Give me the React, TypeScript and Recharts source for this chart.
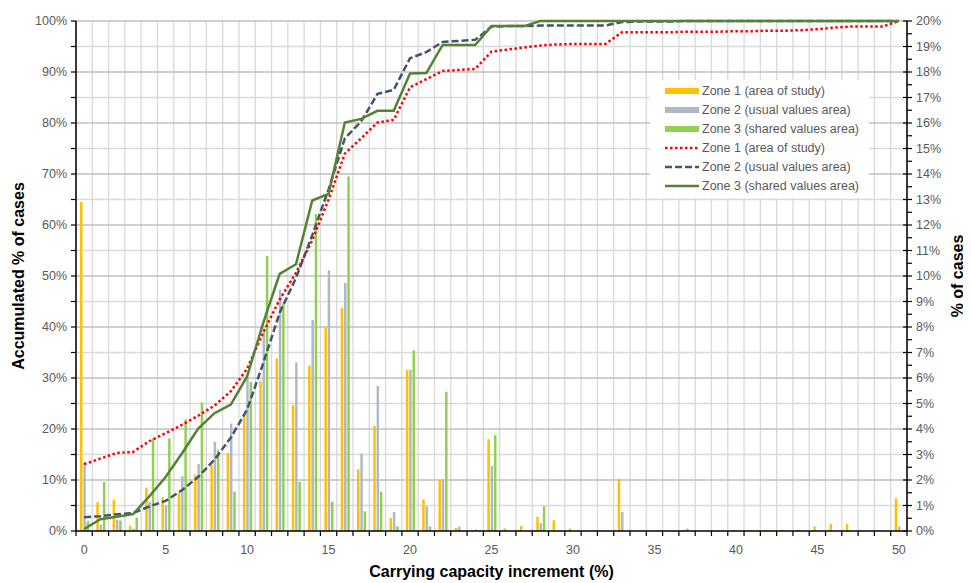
import React from "react";
import {
  Bar,
  CartesianGrid,
  ComposedChart,
  Label,
  Legend,
  Line,
  XAxis,
  YAxis,
} from "recharts";

// carrying capacity increment (%), one category per integer
const increments = [
  0, 1, 2, 3, 4, 5, 6, 7, 8, 9, 10, 11, 12, 13, 14, 15, 16, 17, 18, 19, 20, 21, 22, 23, 24, 25,
  26, 27, 28, 29, 30, 31, 32, 33, 34, 35, 36, 37, 38, 39, 40, 41, 42, 43, 44, 45, 46, 47, 48, 49, 50,
];

// % of cases (right axis)
const zone1Share = [
  12.9, 1.13, 1.23, 0.21, 1.7, 1.33, 1.5, 2.21, 2.58, 3.06, 4.54, 5.87, 6.77, 4.93, 6.48, 7.98,
  8.75, 2.42, 4.12, 0.51, 6.31, 1.24, 2.02, 0.12, 0.03, 3.6, 0.1, 0.2, 0.56, 0.42, 0.1, 0, 0, 2.05,
  0, 0, 0, 0.05, 0, 0, 0.04, 0.04, 0.04, 0.04, 0.05, 0.18, 0.27, 0.27, 0, 0, 1.28,
];
const zone2Share = [
  2.71, 0.25, 0.45, 0.09, 1.14, 1.01, 2.15, 2.62, 3.49, 4.21, 6.04, 7.88, 9.47, 6.61, 8.28, 10.23,
  9.73, 3.04, 5.69, 0.75, 6.33, 0.97, 2.03, 0.18, 0.06, 2.55, 0, 0, 0.31, 0, 0, 0, 0, 0.75, 0, 0,
  0, 0.1, 0, 0, 0, 0, 0, 0, 0, 0, 0, 0, 0, 0, 0.18,
];
const zone3Share = [
  0.38, 1.92, 0.41, 0.53, 3.63, 3.63, 4.37, 5.04, 3.17, 1.55, 5.85, 10.78, 8.92, 1.92, 12.43, 1.15,
  13.9, 0.77, 1.55, 0.18, 7.09, 0.18, 5.46, 0, 0, 3.76, 0, 0, 0.97, 0, 0, 0, 0, 0, 0, 0, 0, 0, 0, 0,
  0, 0, 0, 0, 0, 0, 0, 0, 0, 0, 0,
];

// accumulated % of cases (left axis)
const zone1Accum = [
  13.1, 14.2, 15.3, 15.5, 17.6, 19.2, 20.8, 22.6, 24.6, 27.4, 31.8, 39.0, 45.4, 50.6, 57.0, 65.0,
  74.0, 77.0, 80.1, 80.6, 87.0, 88.6, 90.2, 90.4, 90.6, 94.0, 94.4, 94.8, 95.2, 95.4, 95.5, 95.5,
  95.5, 97.8, 97.8, 97.8, 97.8, 97.9, 97.9, 97.9, 98.0, 98.0, 98.1, 98.1, 98.2, 98.4, 98.7, 98.9,
  98.9, 98.9, 100,
];
const zone2Accum = [
  2.7, 2.9, 3.3, 3.5, 4.8, 5.9, 8.0, 10.6, 14.0, 18.3, 23.8, 33.0, 42.8, 49.6, 58.0, 67.0, 77.0,
  80.3, 85.7, 86.5, 92.7, 93.9, 95.9, 96.1, 96.3, 98.9, 99.0, 99.0, 99.1, 99.1, 99.1, 99.1, 99.1,
  99.8, 99.9, 99.9, 99.9, 100, 100, 100, 100, 100, 100, 100, 100, 100, 100, 100, 100, 100, 100,
];
const zone3Accum = [
  0.4, 2.3, 2.8, 3.3, 6.8, 10.6, 15.2, 20.1, 23.1, 24.8, 30.3, 40.9, 50.4, 52.3, 64.8, 66.1, 80.1,
  80.8, 82.4, 82.4, 89.7, 89.8, 95.3, 95.3, 95.3, 99.0, 99.0, 99.0, 100, 100, 100, 100, 100, 100,
  100, 100, 100, 100, 100, 100, 100, 100, 100, 100, 100, 100, 100, 100, 100, 100, 100,
];

const accumTicks = [0, 5, 10, 15, 20, 25, 30, 35, 40, 45, 50, 55, 60, 65, 70, 75, 80, 85, 90, 95, 100];
const shareTicks = [
  0, 0.5, 1, 1.5, 2, 2.5, 3, 3.5, 4, 4.5, 5, 5.5, 6, 6.5, 7, 7.5, 8, 8.5, 9, 9.5, 10, 10.5, 11,
  11.5, 12, 12.5, 13, 13.5, 14, 14.5, 15, 15.5, 16, 16.5, 17, 17.5, 18, 18.5, 19, 19.5, 20,
];
const majorLevels = [10, 20, 30, 40, 50, 60, 70, 80, 90, 100];
const minorLevels = [5, 15, 25, 35, 45, 55, 65, 75, 85, 95];

const data = increments.map((inc, i) => ({
  inc,
  z1: zone1Share[i],
  z2: zone2Share[i],
  z3: zone3Share[i],
  c1: zone1Accum[i],
  c2: zone2Accum[i],
  c3: zone3Accum[i],
}));

const font = '"Liberation Sans", Arial, sans-serif';
const tickColor = "#595959";

const legendRows = [
  { name: "Zone 1 (area of study)", color: "#FFC000", kind: "bar" },
  { name: "Zone 2 (usual values area)", color: "#ADB9CA", kind: "bar" },
  { name: "Zone 3 (shared values area)", color: "#92D050", kind: "bar" },
  { name: "Zone 1 (area of study)", color: "#FF0000", kind: "line", dash: "2.5 2.5" },
  { name: "Zone 2 (usual values area)", color: "#44546A", kind: "line", dash: "7 3" },
  { name: "Zone 3 (shared values area)", color: "#548235", kind: "line" },
];

function levelsGenerator(levels: number[]) {
  return ({ yAxis, offset }: any) => {
    const s = yAxis && yAxis.scale;
    return levels.map((v) =>
      typeof s === "function" ? s(v) : offset.top + offset.height * (1 - v / 100)
    );
  };
}

function boundaryGenerator({ xAxis, offset }: any) {
  const s = xAxis && xAxis.scale;
  if (typeof s === "function" && typeof s.bandwidth === "function") {
    const last = increments[increments.length - 1];
    return [...increments.map((v) => s(v)), s(last) + s.bandwidth()];
  }
  const step = offset.width / increments.length;
  return [...increments.map((_, i) => offset.left + i * step), offset.left + offset.width];
}

function XTick({ x, y, payload }: any) {
  const half = payload && payload.offset ? payload.offset : 8.15;
  const isLast = payload.value === increments[increments.length - 1];
  return (
    <g>
      <line x1={x - half} x2={x - half} y1={y} y2={y + 5} stroke="#000" strokeWidth={1.2} />
      {isLast && (
        <line x1={x + half} x2={x + half} y1={y} y2={y + 5} stroke="#000" strokeWidth={1.2} />
      )}
      {payload.value % 5 === 0 && (
        <text
          x={x}
          y={y + 14}
          dy="0.71em"
          textAnchor="middle"
          fill={tickColor}
          fontSize={12.5}
          fontFamily={font}
        >
          {payload.value}
        </text>
      )}
    </g>
  );
}

function LeftTick({ x, y, payload }: any) {
  const v = payload.value;
  return (
    <g>
      <line x1={x - 5} x2={x} y1={y} y2={y} stroke="#000" strokeWidth={1.2} />
      {v % 10 === 0 && (
        <text
          x={x - 9}
          y={y}
          dy="0.35em"
          textAnchor="end"
          fill={tickColor}
          fontSize={12.5}
          fontFamily={font}
        >
          {v}%
        </text>
      )}
    </g>
  );
}

function RightTick({ x, y, payload }: any) {
  const v = payload.value;
  const major = Number.isInteger(v);
  return (
    <g>
      <line
        x1={major ? x - 4 : x}
        x2={x + 5}
        y1={y}
        y2={y}
        stroke="#000"
        strokeWidth={1.2}
      />
      {major && (
        <text
          x={x + 9}
          y={y}
          dy="0.35em"
          textAnchor="start"
          fill={tickColor}
          fontSize={12.5}
          fontFamily={font}
        >
          {v}%
        </text>
      )}
    </g>
  );
}

function LegendBox() {
  return (
    <div
      style={{
        background: "#fff",
        padding: "2px 10px 3px 15px",
        fontFamily: font,
        fontSize: 12.5,
        color: tickColor,
        whiteSpace: "nowrap",
      }}
    >
      {legendRows.map((r, i) => (
        <div key={i} style={{ display: "flex", alignItems: "center", height: 18.9 }}>
          <svg width={34} height={10} style={{ display: "block" }}>
            {r.kind === "bar" ? (
              <rect x={0} y={2} width={34} height={6} fill={r.color} />
            ) : (
              <line
                x1={0}
                x2={34}
                y1={5}
                y2={5}
                stroke={r.color}
                strokeWidth={2.5}
                strokeDasharray={r.dash}
              />
            )}
          </svg>
          <span style={{ marginLeft: 3 }}>{r.name}</span>
        </div>
      ))}
    </div>
  );
}

function VerticalTitle({ viewBox, text, dxFromLeft }: any) {
  const cx = viewBox.x + dxFromLeft;
  const cy = viewBox.y + viewBox.height / 2;
  return (
    <text
      x={cx}
      y={cy}
      dy="0.35em"
      transform={`rotate(-90 ${cx} ${cy})`}
      textAnchor="middle"
      fontFamily={font}
      fontWeight="bold"
      fontSize={16}
      fill="#000"
    >
      {text}
    </text>
  );
}

export default function App() {
  return (
    <div style={{ width: 963, height: 575 }}>
      <ComposedChart
        width={963}
        height={575}
        data={data}
        margin={{ top: 13, right: 0, bottom: 2, left: 0 }}
        barGap={0.8}
      >
        <CartesianGrid
          yAxisId="left"
          stroke="#d9d9d9"
          strokeWidth={1.3}
          horizontalCoordinatesGenerator={levelsGenerator(minorLevels)}
          verticalCoordinatesGenerator={boundaryGenerator}
        />
        <CartesianGrid
          yAxisId="left"
          stroke="#bfbfbf"
          strokeWidth={1.4}
          vertical={false}
          horizontalCoordinatesGenerator={levelsGenerator(majorLevels)}
        />
        <XAxis
          dataKey="inc"
          type="category"
          interval={0}
          height={50}
          tickSize={0}
          tickMargin={0}
          tickLine={false}
          tick={(p: any) => <XTick {...p} />}
          axisLine={{ stroke: "#000", strokeWidth: 1.5 }}
        >
          <Label
            content={(p: any) => (
              <text
                x={p.viewBox.x + p.viewBox.width / 2}
                y={p.viewBox.y + 46}
                textAnchor="middle"
                fontFamily={font}
                fontWeight="bold"
                fontSize={16}
                fill="#000"
              >
                Carrying capacity increment (%)
              </text>
            )}
          />
        </XAxis>
        <YAxis
          yAxisId="left"
          width={68}
          domain={[0, 100]}
          ticks={accumTicks}
          interval={0}
          tickSize={0}
          tickMargin={0}
          tickLine={false}
          tick={(p: any) => <LeftTick {...p} />}
          axisLine={{ stroke: "#000", strokeWidth: 1.5 }}
        >
          <Label
            content={(p: any) => (
              <VerticalTitle viewBox={p.viewBox} text="Accumulated % of cases" dxFromLeft={10} />
            )}
          />
        </YAxis>
        <YAxis
          yAxisId="right"
          orientation="right"
          width={64}
          domain={[0, 20]}
          ticks={shareTicks}
          interval={0}
          tickSize={0}
          tickMargin={0}
          tickLine={false}
          tick={(p: any) => <RightTick {...p} />}
          axisLine={{ stroke: "#000", strokeWidth: 1.5 }}
        >
          <Label
            content={(p: any) => (
              <VerticalTitle viewBox={p.viewBox} text="% of cases" dxFromLeft={50} />
            )}
          />
        </YAxis>
        <Legend
          layout="vertical"
          align="center"
          verticalAlign="middle"
          wrapperStyle={{ left: 642, top: 72 }}
          content={() => <LegendBox />}
        />
        <Bar yAxisId="right" dataKey="z1" name="Zone 1 (area of study)" fill="#FFC000" barSize={2.5} isAnimationActive={false} />
        <Bar yAxisId="right" dataKey="z2" name="Zone 2 (usual values area)" fill="#ADB9CA" barSize={2.5} isAnimationActive={false} />
        <Bar yAxisId="right" dataKey="z3" name="Zone 3 (shared values area)" fill="#92D050" barSize={2.5} isAnimationActive={false} />
        <Line
          yAxisId="left"
          type="linear"
          dataKey="c1"
          name="Zone 1 (area of study)"
          stroke="#FF0000"
          strokeWidth={2.5}
          strokeDasharray="2.5 2.5"
          dot={false}
          activeDot={false}
          isAnimationActive={false}
        />
        <Line
          yAxisId="left"
          type="linear"
          dataKey="c2"
          name="Zone 2 (usual values area)"
          stroke="#44546A"
          strokeWidth={2.5}
          strokeDasharray="7 3"
          dot={false}
          activeDot={false}
          isAnimationActive={false}
        />
        <Line
          yAxisId="left"
          type="linear"
          dataKey="c3"
          name="Zone 3 (shared values area)"
          stroke="#548235"
          strokeWidth={2.5}
          dot={false}
          activeDot={false}
          isAnimationActive={false}
        />
      </ComposedChart>
    </div>
  );
}
